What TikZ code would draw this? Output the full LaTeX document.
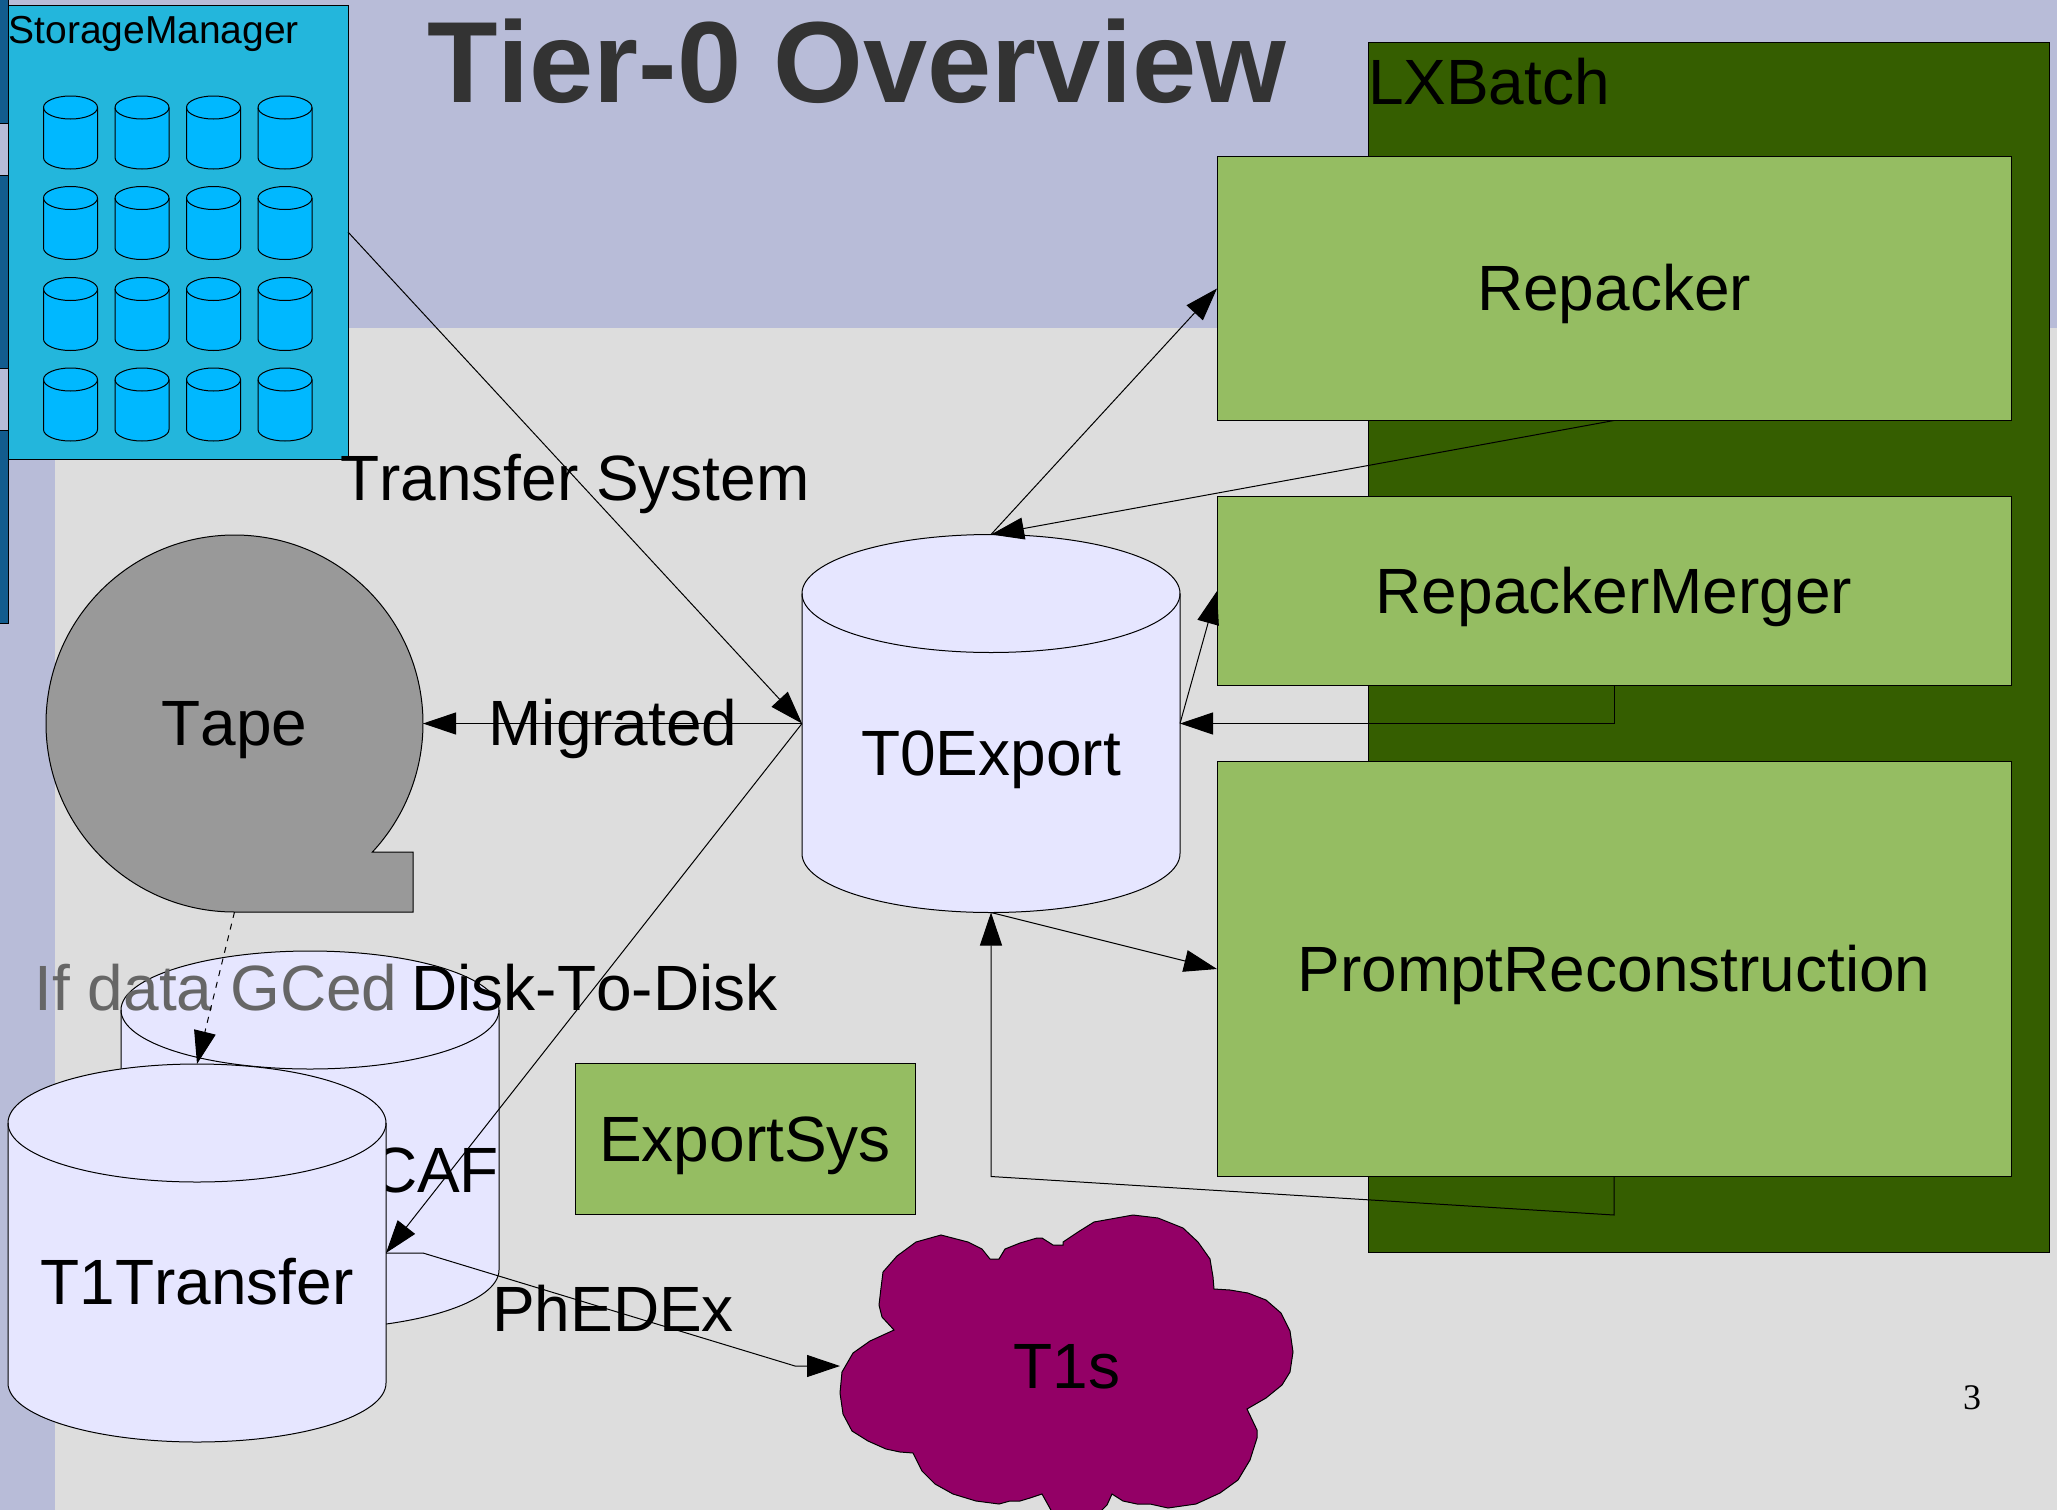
\documentclass[tikz,border=0pt]{standalone}
\usepackage{fontspec}
\setmainfont[Kerning=Off]{Liberation Sans}
\newfontfamily\pagefont{Liberation Serif}
\usetikzlibrary{arrows.meta}
\definecolor{slatebg}{HTML}{B8BCD8}
\definecolor{greybg}{HTML}{DDDDDD}
\definecolor{stripblue}{HTML}{125C8E}
\definecolor{storageblue}{HTML}{23B6DC}
\definecolor{diskblue}{HTML}{00B8FF}
\definecolor{drumfill}{HTML}{E6E6FF}
\definecolor{boxgreen}{HTML}{95BD62}
\definecolor{batchgreen}{HTML}{355E00}
\definecolor{tapegrey}{HTML}{999999}
\definecolor{cloudpurple}{HTML}{930066}
\tikzset{
 every picture/.style={line width=0.5pt},
 big/.style={font=\fontsize{32}{38}\selectfont, text height=29pt, text depth=6.8pt, inner sep=0pt, outer sep=0pt},
 greenbox/.style={big, draw=black, fill=boxgreen, minimum width=397pt},
 drumbox/.style={inner sep=0pt, outer sep=0pt, minimum width=189pt, minimum height=189pt},
 flow/.style={-{Triangle[length=16.5pt,width=11pt]}, black}
}
\newcommand{\drawdrum}[6]{
 \draw [fill=#6, draw=black] ({#1-#3},{#2-#5+#4}) -- ({#1-#3},{#2+#5-#4}) arc [start angle=180, end angle=360, x radius=#3*0.5pt, y radius=#4*0.5pt] -- ({#1+#3},{#2-#5+#4}) arc [start angle=0, end angle=180, x radius=#3*0.5pt, y radius=#4*0.5pt] -- cycle;
 \draw [black] ({#1-#3},{#2-#5+#4}) arc [start angle=180, end angle=360, x radius=#3*0.5pt, y radius=#4*0.5pt];
}
\begin{document}
\begin{tikzpicture} [x=0.5pt,y=-0.5pt]
 \useasboundingbox (0,0) rectangle (2057,1510);
 \fill [slatebg] (0,0) rectangle (2057,1510);
 \fill [greybg] (55,328) rectangle (2057,1510);
 \filldraw [fill=stripblue, draw=black] (-2,-2) rectangle (8,123);
 \filldraw [fill=stripblue, draw=black] (-2,175) rectangle (8,368);
 \filldraw [fill=stripblue, draw=black] (-2,430) rectangle (8,623);
 \node (title) [font=\fontsize{57.7}{66}\bfseries\selectfont, text=black!80, inner sep=0pt] at (857,61) {Tier-0 Overview};
 \node (batch) [draw=black, fill=batchgreen, inner sep=0pt, outer sep=0pt, minimum width=340.5pt, minimum height=605pt] at (1708.5,647.5) {};
 \node (batchlabel) [big, anchor=west] at (1368,82) {LXBatch};
 \node (repacker) [greenbox, minimum height=132pt] at (1614,288.5) {Repacker};
 \node (merger) [greenbox, minimum height=94.5pt] at (1614,591) {RepackerMerger};
 \node (prompt) [greenbox, minimum height=207.5pt] at (1614,969) {PromptReconstruction};
 \node (exportsys) [big, draw=black, fill=boxgreen, minimum width=170pt, minimum height=75.5pt] at (745,1139) {ExportSys};
 \node (storage) [draw=black, fill=storageblue, inner sep=0pt, outer sep=0pt, minimum width=170pt, minimum height=227pt] at (178,232) {};
 \node (storagelabel) [font=\fontsize{19.5}{23}\selectfont, anchor=west, inner sep=0pt] at (8,34) {StorageManager};
 \foreach \x in {70.5,142,213.5,285}
  \foreach \y in {132.5,223,314,404.5}
   {\drawdrum{\x}{\y}{27}{11.5}{36.5}{diskblue}}
 \draw [fill=tapegrey, draw=black] (234.5,912) arc [start angle=270, end angle=-43, radius=94.25pt] -- (413,852) -- (413,912) -- cycle;
 \node (tape) [big, circle, minimum size=188.5pt] at (234.5,723.5) {Tape};
 \drawdrum{310}{1140}{189}{59}{189}{drumfill}
 \node (caf) [drumbox] at (310,1140) {};
 \node (caflabel) [big, anchor=east] at (499,1170) {CAF};
 \drawdrum{991}{723.5}{189}{59}{189}{drumfill}
 \node (t0export) [drumbox] at (991,723.5) {};
 \node (t0label) [big] at (991,753) {T0Export};
 \drawdrum{197}{1253}{189}{59}{189}{drumfill}
 \node (t1transfer) [drumbox] at (197,1253) {};
 \node (t1label) [big] at (197,1282) {T1Transfer};
 \draw [fill=cloudpurple, draw=black] (883,1272) -- (897,1256) -- (916,1242) -- (941,1235) -- (968,1242) -- (982,1249) -- (990,1259) -- (999,1259) -- (1005,1249) -- (1020,1243) -- (1037,1238) -- (1042,1238) -- (1053,1245) -- (1063,1245) -- (1063,1242) -- (1078,1232) -- (1094,1222) -- (1133,1215) -- (1158,1218) -- (1183,1228) -- (1198,1242) -- (1210,1259) -- (1213,1277) -- (1214,1289) -- (1230,1290) -- (1248,1293) -- (1266,1300) -- (1281,1313) -- (1290,1331) -- (1293,1352) -- (1290,1372) -- (1282,1385) -- (1266,1398) -- (1247,1409) -- (1257,1430) -- (1257,1438) -- (1250,1460) -- (1238,1480) -- (1220,1493) -- (1196,1504) -- (1168,1508) -- (1150,1504) -- (1137,1504) -- (1123,1501) -- (1112,1494) -- (1107,1505) -- (1100,1512) -- (1052,1512) -- (1042,1494) -- (1030,1498) -- (1020,1501) -- (1010,1501) -- (999,1504) -- (976,1501) -- (953,1494) -- (935,1484) -- (922,1471) -- (913,1453) -- (900,1452) -- (886,1449) -- (868,1441) -- (852,1431) -- (843,1414) -- (840,1393) -- (842,1372) -- (853,1353) -- (870,1341) -- (894,1330) -- (882,1317) -- (879,1305) -- (881,1288) -- cycle;
 \node (t1s) [big, minimum width=227pt] at (1067,1366) {T1s};
 \node (transferlabel) [big] at (575,478) {Transfer System};
 \node (migrated) [big] at (613,723) {Migrated};
 \node (gced) [big, text=black!60] at (216,988) {If data GCed};
 \node (disktodisk) [big] at (594.5,988) {Disk-To-Disk};
 \node (phedex) [big] at (613,1309) {PhEDEx};
 \node (pagenum) [font=\pagefont\fontsize{18}{22}\selectfont, inner sep=0pt] at (1972,1398) {3};
 \coordinate (t1stub) at (423,1253);
 \coordinate (t1send) at (795,1366);
 \coordinate (promptdrop) at (1614,1215);
 \coordinate (promptturn) at (t0export.south |- prompt.south);
 \coordinate (mergerdrop) at (merger.south |- t0export.east);
 \draw [flow] (storage.east) -- (t0export.west);
 \draw [flow] (t0export.west) -- (tape.east);
 \draw [flow] (t0export.north) -- (repacker.west);
 \draw [flow] (repacker.south) -- (t0export.north);
 \draw [flow] (t0export.east) -- (merger.west);
 \draw [flow] (merger.south) -- (mergerdrop) -- (t0export.east);
 \draw [flow] (t0export.south) -- (prompt.west);
 \draw [flow] (prompt.south) -- (promptdrop) -- (promptturn) -- (t0export.south);
 \draw [flow] (t0export.west) -- (t1transfer.east);
 \draw [flow] (t1transfer.east) -- (t1stub) -- (t1send) -- (t1s.west);
 \draw [flow, dashed] (tape.south) -- (t1transfer.north);
\end{tikzpicture}
\end{document}
